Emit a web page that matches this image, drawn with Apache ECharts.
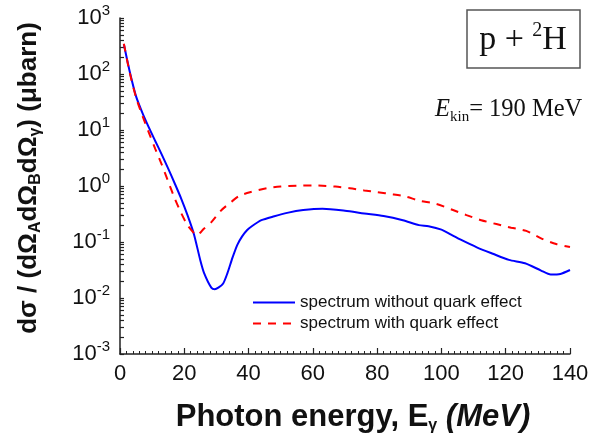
<!DOCTYPE html>
<html>
<head>
<meta charset="utf-8">
<script src="https://cdn.jsdelivr.net/npm/echarts@6/dist/echarts.min.js"></script>
<style>html,body{margin:0;padding:0;background:#fff;}#c{width:594px;height:438px;}</style>
</head>
<body>
<div id="c"></div>
<script>
// Photon energy (MeV) and cross section (µbarn) — without quark effect
const energyNoQuark = [1.2, 3, 5, 7, 9, 11, 13, 15, 17, 19, 21, 23, 25, 26.2, 28.4, 29.5, 30.6, 32.1, 33.4, 35, 36.5, 38, 39.5, 41, 44, 48, 52, 57, 63, 70, 76, 82, 88, 93, 96, 100, 103, 106, 111, 116, 121, 126, 131, 134, 137, 140];
const sigmaNoQuark = [339, 112, 39.8, 20.0, 11.0, 6.31, 3.63, 2.04, 1.12, 0.603, 0.302, 0.138, 0.0468, 0.0275, 0.0153, 0.0143, 0.0153, 0.0182, 0.0275, 0.0525, 0.0891, 0.126, 0.162, 0.191, 0.245, 0.288, 0.331, 0.372, 0.394, 0.363, 0.324, 0.292, 0.245, 0.200, 0.191, 0.166, 0.135, 0.110, 0.0804, 0.0617, 0.0479, 0.0417, 0.0309, 0.0263, 0.0269, 0.0316];
// with quark effect
const energyQuark = [1.2, 3, 5, 7, 9, 11, 13, 15, 17, 19, 21, 23, 24, 26, 28.5, 31.6, 34.7, 37, 40.4, 45.6, 50, 55, 60, 63, 67, 71.5, 76, 80, 85, 89, 93, 98.4, 103.6, 107.8, 112.4, 117.1, 121.7, 126.4, 131, 135.7, 140];
const sigmaQuark = [347, 107, 38.0, 17.8, 8.91, 4.57, 2.40, 1.20, 0.603, 0.331, 0.200, 0.145, 0.133, 0.170, 0.229, 0.372, 0.525, 0.661, 0.776, 0.912, 0.977, 1.01, 1.02, 1.01, 0.977, 0.912, 0.832, 0.776, 0.708, 0.646, 0.550, 0.479, 0.372, 0.302, 0.245, 0.209, 0.180, 0.158, 0.116, 0.092, 0.0813];
const seriesNames = ['spectrum without quark effect', 'spectrum with quark effect'];
const xTicks = [0, 20, 40, 60, 80, 100, 120, 140];
const yDecades = [0.001, 0.01, 0.1, 1, 10, 100, 1000];

const SANS = '"Liberation Sans", Arial, sans-serif';
const SERIF = '"Liberation Serif", "Times New Roman", serif';

// log minor tick positions (1..9 per decade)
const yTickValues = [];
for (let e = -3; e < 3; e++) for (let k = 1; k < 10; k++) yTickValues.push(+(k * Math.pow(10, e)).toPrecision(3));
yTickValues.push(1000);

const chart = echarts.init(document.getElementById('c'), null, {renderer: 'canvas'});
chart.setOption({
  animation: false,
  backgroundColor: '#fff',
  grid: {left: 120, right: 24, top: 18, bottom: 84, containLabel: false},
  legend: {
    show: true, orient: 'vertical', left: 247, top: 289,
    itemWidth: 42, itemHeight: 14, itemGap: 4,
    itemStyle: {opacity: 0},
    textStyle: {fontFamily: SANS, fontSize: 17, color: '#111'},
    data: seriesNames
  },
  xAxis: {
    type: 'value', min: 0, max: 140, interval: 20,
    axisLine: {lineStyle: {color: '#222', width: 1.5}},
    axisTick: {inside: true, length: 6, lineStyle: {color: '#222', width: 1.2}},
    minorTick: {show: true, splitNumber: 10, length: 3, lineStyle: {color: '#222'}},
    splitLine: {show: false},
    axisLabel: {fontFamily: SANS, fontSize: 22, color: '#111', margin: 9,
      customValues: xTicks}
  },
  yAxis: {
    type: 'log', logBase: 10, min: 0.001, max: 1000, interval: 1,
    axisLine: {show: true, lineStyle: {color: '#222', width: 1.5}},
    axisTick: {inside: true, length: 4, lineStyle: {color: '#222', width: 1.2}, customValues: yTickValues},
    splitLine: {show: false},
    axisLabel: {
      customValues: yDecades,
      margin: 10, color: '#111',
      formatter: function (v) {
        const ex = Math.round(Math.log10(v));
        return '{b|10}{s|' + ex + '}';
      },
      rich: {
        b: {fontFamily: SANS, fontSize: 22, color: '#111', lineHeight: 24},
        s: {fontFamily: SANS, fontSize: 15, color: '#111', lineHeight: 16, padding: [0, 0, 14, 0]}
      }
    }
  },
  series: [
    {
      name: seriesNames[0], type: 'line', showSymbol: false, symbol: 'none', smooth: 0.25,
      lineStyle: {color: '#0000ff', width: 2},
      itemStyle: {color: '#0000ff'},
      data: energyNoQuark.map((e, i) => [e, sigmaNoQuark[i]])
    },
    {
      name: seriesNames[1], type: 'line', showSymbol: false, symbol: 'none', smooth: 0.25,
      lineStyle: {color: '#ff0000', width: 2, type: [8, 7]},
      itemStyle: {color: '#ff0000'},
      data: energyQuark.map((e, i) => [e, sigmaQuark[i]])
    }
  ],
  graphic: [
    {
      type: 'text', x: 29, y: 178, rotation: Math.PI / 2,
      style: {
        text: '{m|dσ / (dΩ}{s|A}{m|dΩ}{s|B}{m|dΩ}{s|γ}{m|) (μbarn)}',
        align: 'center', verticalAlign: 'middle',
        rich: {
          m: {fontFamily: SANS, fontSize: 26, fontWeight: 'bold', fill: '#111', lineHeight: 30},
          s: {fontFamily: SANS, fontSize: 16, fontWeight: 'bold', fill: '#111', lineHeight: 18, padding: [14, 0, 0, 0]}
        }
      }
    },
    {
      type: 'text', x: 353, y: 417,
      style: {
        text: '{m|Photon energy, E}{s|γ}{m| }{i|(MeV)}',
        align: 'center', verticalAlign: 'middle',
        rich: {
          m: {fontFamily: SANS, fontSize: 31, fontWeight: 'bold', fill: '#111', lineHeight: 32},
          i: {fontFamily: SANS, fontSize: 31, fontWeight: 'bold', fontStyle: 'italic', fill: '#111', lineHeight: 32},
          s: {fontFamily: SANS, fontSize: 16, fontWeight: 'bold', fill: '#111', lineHeight: 16, padding: [18, 0, 0, 0]}
        }
      }
    },
    {
      type: 'rect', shape: {x: 467, y: 10, width: 113, height: 58},
      style: {fill: '#fff', stroke: '#555', lineWidth: 1.5}
    },
    {
      type: 'text', x: 523, y: 40,
      style: {
        text: '{a|p + }{p|2}{a|H}',
        align: 'center', verticalAlign: 'middle',
        rich: {
          a: {fontFamily: SERIF, fontSize: 34, fill: '#111', lineHeight: 36},
          p: {fontFamily: SERIF, fontSize: 20, fill: '#111', lineHeight: 20, padding: [0, 0, 18, 0]}
        }
      }
    },
    {
      type: 'text', x: 435, y: 110,
      style: {
        text: '{e|E}{s|kin}{a|= 190 MeV}',
        align: 'left', verticalAlign: 'middle',
        rich: {
          e: {fontFamily: SERIF, fontSize: 24.5, fontStyle: 'italic', fill: '#111', lineHeight: 26},
          a: {fontFamily: SERIF, fontSize: 24.5, fill: '#111', lineHeight: 26},
          s: {fontFamily: SERIF, fontSize: 15, fill: '#111', lineHeight: 16, padding: [15, 0, 0, 0]}
        }
      }
    }
  ]
});
</script>
</body>
</html>
